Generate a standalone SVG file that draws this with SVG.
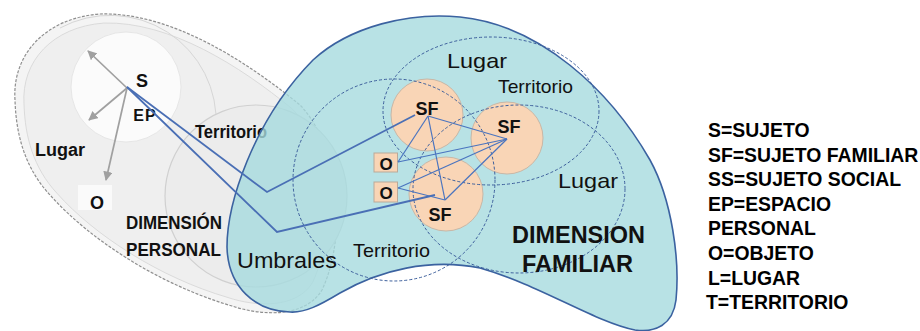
<svg xmlns="http://www.w3.org/2000/svg" xmlns:xlink="http://www.w3.org/1999/xlink" width="920" height="331" viewBox="0 0 920 331">
  <defs>
    <style>
      .lbl { font-family: "Liberation Sans", Arial, sans-serif; fill: #111; }
      .b { font-weight: bold; }
      .legend { font-family: "Liberation Sans", Arial, sans-serif; font-weight: bold; font-size: 19.4px; fill: #000; }
      .dash { fill: none; stroke: #3d5f9c; stroke-width: 1; stroke-dasharray: 3 2; }
      .sf { fill: #f9d5b6; stroke: #c9b7a6; stroke-width: 1; }
      .obox { fill: #f9d5b6; stroke: #b9a999; stroke-width: 1; }
      .net { fill: none; stroke: #4a74bf; stroke-width: 1.2; }
      .long { fill: none; stroke: #4a6fb5; stroke-width: 1.8; stroke-linejoin: miter; }
      .garrow { stroke: #a0a0a0; stroke-width: 1.7; fill: none; }
    </style>
    <marker id="gah" viewBox="0 0 10 10" refX="9" refY="5" markerWidth="5.5" markerHeight="5.5" orient="auto" markerUnits="strokeWidth">
      <path d="M0,0 L10,5 L0,10 Z" fill="#a0a0a0"/>
    </marker>
    <path id="outer" d="M 15,100 C 12,55 45,18 100,14 C 170,12 245,60 300,105 C 335,140 350,230 322,290 C 305,318 262,316 232,306 C 160,285 90,240 50,195 C 25,168 16,135 15,100 Z"/>
  </defs>

  <!-- Dimensión personal (gray) -->
  <g id="dimension-personal">
    <use xlink:href="#outer" fill="#f4f4f4" stroke="#8f8f8f" stroke-width="1.2" stroke-dasharray="3 1.5"/>
    <use xlink:href="#outer" fill="#efefef" stroke="#d9d9d9" stroke-width="1" transform="translate(165 165) scale(0.94) translate(-165 -165)"/>
    <path d="M 60,28 A 106,106 0 0 1 216,128" fill="none" stroke="#d6d6d6" stroke-width="1"/>
    <circle cx="256" cy="196" r="91" fill="#ececec" stroke="#d0d0d0" stroke-width="1.2"/>
    <circle cx="126" cy="87" r="55" fill="#fbfbfb" stroke="#e6e6e6" stroke-width="1"/>
  </g>

  <g id="gray-arrows">
    <line class="garrow" x1="127" y1="88" x2="88" y2="51" marker-end="url(#gah)"/>
    <line class="garrow" x1="127" y1="88" x2="89" y2="120" marker-end="url(#gah)"/>
    <line class="garrow" x1="127" y1="88" x2="106" y2="180" marker-end="url(#gah)"/>
  </g>

  <g id="node-o-personal">
    <rect x="78" y="185" width="34" height="25" fill="#fafafa"/>
    <text class="lbl b" x="97" y="209" font-size="18" text-anchor="middle" fill="#222">O</text>
  </g>

  <g id="personal-labels">
    <text class="lbl b" x="142" y="87" font-size="18" text-anchor="middle">S</text>
    <text class="lbl b" x="145" y="121" font-size="16" text-anchor="middle" letter-spacing="1">EP</text>
    <text class="lbl b" x="195" y="138" font-size="19" textLength="72" lengthAdjust="spacingAndGlyphs" fill="#2a2a2a">Territorio</text>
    <text class="lbl b" x="35" y="156" font-size="18" textLength="50" lengthAdjust="spacingAndGlyphs" fill="#2a2a2a">Lugar</text>
    <text class="lbl b" x="126" y="229" font-size="18" textLength="96" lengthAdjust="spacingAndGlyphs">DIMENSIÓN</text>
    <text class="lbl b" x="126" y="256" font-size="18" textLength="95" lengthAdjust="spacingAndGlyphs">PERSONAL</text>
  </g>

  <!-- Dimensión familiar (blob) -->
  <g id="dimension-familiar">
    <path d="M 290,312 C 255,311 228,287 227,247 C 227,205 252,122 313,60 C 350,26 410,12 460,17 C 540,25 610,90 650,160 C 672,200 680,260 676,300 C 673,325 655,333 635,330 C 595,322 540,285 480,268 C 430,258 380,270 340,293 C 320,305 305,313 290,312 Z" fill="#a6dbdf" fill-opacity="0.8" stroke="#3b62a0" stroke-width="1.6"/>
  </g>

  <g id="sf-1"><circle class="sf" cx="427" cy="115" r="36"/></g>
  <g id="sf-2"><circle class="sf" cx="507" cy="138" r="36"/></g>
  <g id="sf-3"><circle class="sf" cx="446" cy="194" r="37"/></g>

  <g id="zones">
    <ellipse class="dash" cx="491" cy="111" rx="108" ry="74"/>
    <circle class="dash" cx="394" cy="180" r="101"/>
    <ellipse class="dash" cx="519" cy="189" rx="106" ry="84"/>
  </g>

  <g id="o-1"><rect class="obox" x="374" y="153" width="23.5" height="19"/></g>
  <g id="o-2"><rect class="obox" x="374" y="182" width="23.5" height="20"/></g>

  <g id="connectors">
    <polyline class="long" points="127,87 267,192 415,115"/>
    <polyline class="long" points="127,87 277,232 435,195"/>
    <line class="net" x1="428" y1="116" x2="507" y2="139"/>
    <line class="net" x1="428" y1="116" x2="445" y2="200"/>
    <line class="net" x1="428" y1="116" x2="398" y2="162"/>
    <line class="net" x1="398" y1="162" x2="507" y2="139"/>
    <line class="net" x1="398" y1="188" x2="507" y2="139"/>
    <line class="net" x1="398" y1="188" x2="445" y2="200"/>
    <line class="net" x1="445" y1="200" x2="507" y2="139"/>
  </g>

  <g id="familiar-labels">
    <text class="lbl b" x="427" y="115" font-size="18" text-anchor="middle">SF</text>
    <text class="lbl b" x="509" y="133" font-size="18" text-anchor="middle">SF</text>
    <text class="lbl b" x="440" y="221" font-size="18" text-anchor="middle">SF</text>
    <text class="lbl b" x="386" y="170" font-size="17" text-anchor="middle">O</text>
    <text class="lbl b" x="386" y="199" font-size="17" text-anchor="middle">O</text>
    <text class="lbl" x="447" y="68" font-size="21" textLength="60" lengthAdjust="spacingAndGlyphs">Lugar</text>
    <text class="lbl" x="498" y="93" font-size="19" textLength="75" lengthAdjust="spacingAndGlyphs">Territorio</text>
    <text class="lbl" x="558" y="188" font-size="21" textLength="60" lengthAdjust="spacingAndGlyphs">Lugar</text>
    <text class="lbl" x="353" y="257" font-size="19" textLength="77" lengthAdjust="spacingAndGlyphs">Territorio</text>
    <text class="lbl" x="237" y="268" font-size="22" textLength="100" lengthAdjust="spacingAndGlyphs">Umbrales</text>
    <text class="lbl b" x="512" y="243" font-size="24" textLength="133" lengthAdjust="spacingAndGlyphs">DIMENSION</text>
    <text class="lbl b" x="522" y="272" font-size="24" textLength="111" lengthAdjust="spacingAndGlyphs">FAMILIAR</text>
  </g>

  <g id="legend">
    <text class="legend" x="708" y="137">S=SUJETO</text>
    <text class="legend" x="708" y="161.6">SF=SUJETO FAMILIAR</text>
    <text class="legend" x="708" y="186">SS=SUJETO SOCIAL</text>
    <text class="legend" x="708" y="210.8">EP=ESPACIO</text>
    <text class="legend" x="708" y="235.4">PERSONAL</text>
    <text class="legend" x="708" y="260">O=OBJETO</text>
    <text class="legend" x="708" y="284.6">L=LUGAR</text>
    <text class="legend" x="706" y="309" font-size="20.5px">T=TERRITORIO</text>
  </g>
</svg>
